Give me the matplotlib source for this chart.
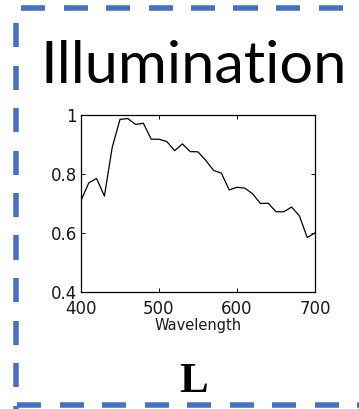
import matplotlib.pyplot as plt
from matplotlib.lines import Line2D

# illumination spectrum, sampled every 10 nm
wavelength = list(range(400, 701, 10))
illum = [0.71, 0.77, 0.785, 0.725, 0.89, 0.985, 0.988, 0.968, 0.972, 0.918,
         0.918, 0.91, 0.879, 0.902, 0.876, 0.875, 0.846, 0.812, 0.803, 0.746,
         0.755, 0.752, 0.733, 0.700, 0.701, 0.672, 0.672, 0.688, 0.658, 0.585,
         0.600]
x_ticks = [400, 500, 600, 700]
y_ticks = [0.4, 0.6, 0.8, 1.0]
y_tick_labels = ['0.4', '0.6', '0.8', '1']

W, H = 359, 409
fig = plt.figure(figsize=(W / 100, H / 100), dpi=100)


def px(x, y):
    # pixel coords (from top-left) -> figure fraction
    return x / W, 1 - y / H


def dashed(start, fixed, horizontal, dash=24, period=42.5, lw=5.5):
    # dashed border drawn segment by segment so spacing is exact in pixels
    limit = W if horizontal else H
    s = start
    while s < limit:
        e = s + dash
        if horizontal:
            (a, b), (c, d) = px(s, fixed), px(e, fixed)
        else:
            (a, b), (c, d) = px(fixed, s), px(fixed, e)
        fig.add_artist(Line2D([a, c], [b, d], transform=fig.transFigure,
                              color='#4472C4', lw=lw * 0.72,
                              solid_capstyle='butt'))
        s += period


dashed(21, 8, True)
dashed(23, 16, False)
dashed(17, 404.5, True)

tx, ty = px(193.5, 83)
fig.text(tx, ty, 'Illumination', fontsize=42.8, family='Lato',
         ha='center', va='baseline', color='black')

lx, ly = px(194, 392)
fig.text(lx, ly, 'L', fontsize=31, family='Liberation Serif', weight='bold',
         ha='center', va='baseline', color='black')

left, top = px(81, 115)
right, bottom = px(315, 292)
ax = fig.add_axes([left, bottom, right - left, top - bottom])
ax.plot(wavelength, illum, color='black', lw=0.9)
ax.set_xlim(400, 700)
ax.set_ylim(0.4, 1.0)
ax.set_xticks(x_ticks)
ax.set_yticks(y_ticks)
ax.set_yticklabels(y_tick_labels)
ax.tick_params(direction='in', length=3, width=0.7, top=True, right=True,
               labelsize=12, labelcolor='#1a1a1a')
ax.tick_params(axis='x', pad=5.5)
ax.tick_params(axis='y', pad=3)
for s in ax.spines.values():
    s.set_linewidth(0.9)
ax.set_xlabel('Wavelength', fontsize=10.5, color='#1a1a1a', labelpad=0)

fig.savefig('out.png', dpi=100)
